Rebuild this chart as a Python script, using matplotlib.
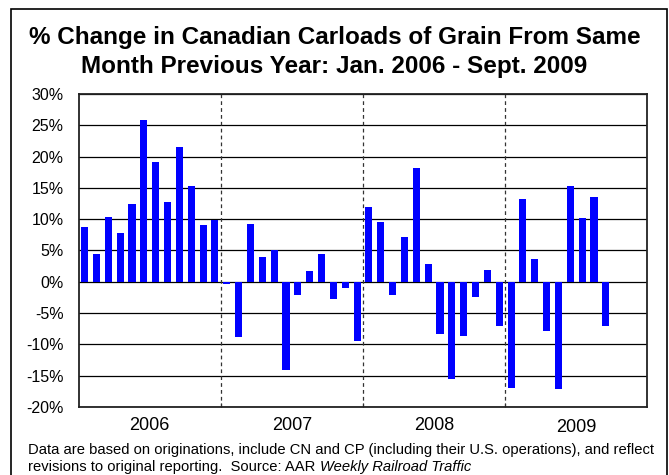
import matplotlib
matplotlib.use("Agg")
import matplotlib.pyplot as plt
from matplotlib.patches import Rectangle
import numpy as np

plt.rcParams['font.family'] = ['Liberation Sans', 'DejaVu Sans']

# monthly % change, Jan 2006 - Sep 2009
y2006 = [8.7, 4.4, 10.4, 7.8, 12.4, 25.8, 19.1, 12.7, 21.5, 15.3, 9.1, 9.9]
y2007 = [-0.3, -8.8, 9.3, 3.9, 5.1, -14.1, -2.1, 1.8, 4.4, -2.7, -1.0, -9.5]
y2008 = [12.0, 9.6, -2.1, 7.1, 18.1, 2.8, -8.4, -15.6, -8.7, -2.4, 1.9, -7.0]
y2009 = [-17.0, 13.2, 3.6, -7.8, -17.1, 15.3, 10.2, 13.5, -7.0]
years = ['2006', '2007', '2008', '2009']
yticks = [-20, -15, -10, -5, 0, 5, 10, 15, 20, 25, 30]

values = y2006 + y2007 + y2008 + y2009
x = np.arange(len(values)) + 0.5

fig = plt.figure(figsize=(6.69, 4.75), dpi=100)
ax = fig.add_axes([0.1176, 0.1432, 0.85, 0.6589])

ax.bar(x, values, width=0.6, color='#0000FF', zorder=3)

for v in yticks:
    ax.axhline(v, color='black', lw=0.9, zorder=1)
for sep in [12, 24, 36]:
    ax.axvline(sep, color='#333333', lw=0.9, ls=(0, (3, 2.5)), zorder=2)

ax.set_xlim(0, 48)
ax.set_ylim(-20, 30)
ax.set_yticks(yticks)
ax.set_yticklabels([f'{v}%' for v in yticks], fontsize=11.5)
ax.tick_params(axis='y', length=0, pad=11)
ax.set_xticks([12, 24, 36])
ax.set_xticklabels([])
ax.tick_params(axis='x', direction='in', length=3, color='#333333')
for s in ax.spines.values():
    s.set_linewidth(1.3)
    s.set_color('#222222')
    s.set_zorder(4)

# year labels under each block
year_y = [425, 425, 425, 428]
for i, (yr, py) in enumerate(zip(years, year_y)):
    xf = ax.transData.transform((i * 12 + 6, 0))[0] / fig.bbox.width
    fig.text(xf, 1 - py / 475, yr, ha='center', va='center', fontsize=13)

fig.text(0.50, 1 - 52 / 475,
         '% Change in Canadian Carloads of Grain From Same\nMonth Previous Year: Jan. 2006 - Sept. 2009',
         ha='center', va='center', fontsize=17.5, fontweight='bold', linespacing=1.3)

fig.text(28 / 669, 1 - 450 / 475,
         'Data are based on originations, include CN and CP (including their U.S. operations), and reflect',
         ha='left', va='center', fontsize=10.6)
fig.text(28 / 669, 1 - 467 / 475,
         'revisions to original reporting.  Source: AAR ',
         ha='left', va='center', fontsize=10.6)
t = fig.text(0, 0, '', fontsize=10.6)
fig.canvas.draw()
r = fig.texts[-2].get_window_extent()
t.set_position((r.x1 / fig.bbox.width, 1 - 467 / 475))
t.set_text('Weekly Railroad Traffic')
t.set_style('italic')
t.set_va('center')

fig.patches.append(Rectangle((11 / 669, -0.05), 656 / 669, 1 - 9 / 475 + 0.05,
                             transform=fig.transFigure, fill=False,
                             edgecolor='black', lw=1.2))

fig.savefig('out.png', dpi=100)
